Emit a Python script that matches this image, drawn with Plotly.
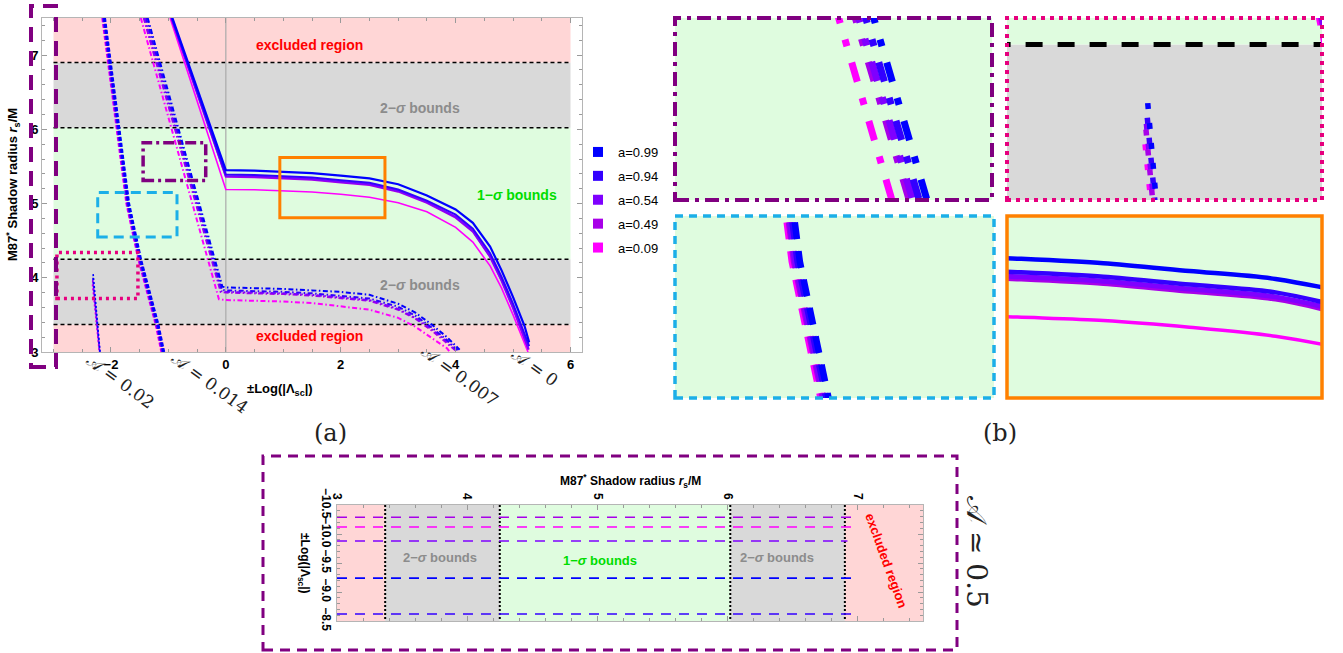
import plotly.graph_objects as go

W, H = 1343, 653

# ---------------- data ----------------
spins = ["0.99", "0.94", "0.54", "0.49", "0.09"]

band_edges = [3.0, 3.37, 4.25, 6.02, 6.9, 7.5]
band_kinds = ["excl", "s2", "s1", "s2", "excl"]
band_x = [-3.0, 6.0]            # horizontal extent of the shaded bands (main panel)

# A = 0 (solid)
solid_top_y = 7.5
solid_top_x = [-0.93, -0.94, -0.945, -0.95, -0.97]
solid_x = [0, 0.5, 1, 1.5, 2, 2.5, 3, 3.5, 4, 4.3, 4.6, 4.8, 5.0, 5.1, 5.2]
solid_y_099 = [5.45, 5.445, 5.43, 5.41, 5.375, 5.34, 5.26, 5.11, 4.92, 4.74, 4.42, 4.10, 3.74, 3.55, 3.35]
solid_y_094 = [5.39, 5.385, 5.37, 5.35, 5.315, 5.28, 5.19, 5.04, 4.85, 4.66, 4.33, 4.01, 3.65, 3.45, 3.25]
solid_y_054 = [5.37, 5.365, 5.35, 5.33, 5.295, 5.26, 5.17, 5.02, 4.82, 4.63, 4.29, 3.97, 3.60, 3.40, 3.20]
solid_y_049 = [5.36, 5.355, 5.34, 5.32, 5.285, 5.25, 5.16, 5.01, 4.81, 4.62, 4.28, 3.96, 3.59, 3.39, 3.19]
solid_y_009 = [5.19, 5.185, 5.17, 5.155, 5.125, 5.085, 5.01, 4.89, 4.68, 4.48, 4.16, 3.86, 3.50, 3.31, 3.13]
solid_end_x = [5.28, 5.28, 5.27, 5.27, 5.26]
solid_end_y = [3.13, 3.08, 3.04, 3.03, 3.0]

# A = 0.007 (dot-dashed)
dd_top_x = [-1.36, -1.39, -1.42, -1.43, -1.48]
dd_kink_x = [-0.06, -0.07, -0.08, -0.09, -0.12]
dd_x = [0, 0.5, 1, 1.5, 2, 2.5, 3, 3.3, 3.6, 3.85]
dd_y_099 = [3.87, 3.865, 3.85, 3.83, 3.81, 3.77, 3.65, 3.53, 3.36, 3.20]
dd_y_094 = [3.83, 3.825, 3.81, 3.79, 3.76, 3.72, 3.61, 3.49, 3.32, 3.16]
dd_y_054 = [3.81, 3.805, 3.79, 3.77, 3.74, 3.70, 3.58, 3.46, 3.30, 3.14]
dd_y_049 = [3.80, 3.795, 3.78, 3.76, 3.73, 3.69, 3.57, 3.45, 3.28, 3.12]
dd_y_009 = [3.70, 3.695, 3.68, 3.66, 3.62, 3.57, 3.46, 3.34, 3.18, 3.05]
dd_end_x = [4.07, 4.04, 4.01, 4.0, 3.9]
dd_end_y = [3.03, 3.02, 3.02, 3.02, 3.0]

# A = 0.014 (dashed)
dsh_y = [7.5, 6.0, 5.0, 4.24, 3.37, 3.0]
dsh_x_099 = [-2.11, -1.86, -1.69, -1.48, -1.18, -1.08]
dsh_x_094 = [-2.12, -1.87, -1.70, -1.49, -1.19, -1.09]
dsh_x_054 = [-2.13, -1.88, -1.71, -1.50, -1.20, -1.10]
dsh_x_049 = [-2.135, -1.885, -1.715, -1.505, -1.205, -1.105]
dsh_x_009 = [-2.145, -1.895, -1.725, -1.515, -1.215, -1.115]

# A = 0.02 (dotted)
dot_top_y = [4.05, 4.0, 3.98, 3.96, 3.91]
dot_top_x = [-2.31, -2.312, -2.316, -2.318, -2.322]
dot_bot_y = [3.0, 3.0, 3.0, 3.0, 3.0]
dot_bot_x = [-2.19, -2.192, -2.196, -2.198, -2.202]

# A ~ 0.5 (bottom panel): +-Log(|Lambda_sc|) level per spin, r_s range
half_logL = [-9.24, -8.62, -9.88, -10.29, -10.12]
half_r_start = [3.0, 3.0, 3.0, 3.0, 3.0]
half_r_end = [7.0, 7.0, 6.92, 7.0, 7.0]

# zoom boxes (data coordinates of main panel)
box_purple = [-1.44, -0.35, 5.31, 5.82]
box_pink = [-2.94, -1.53, 3.72, 4.34]
box_cyan = [-2.23, -0.85, 4.55, 5.15]
box_orange = [0.94, 2.77, 4.81, 5.62]

solid_ys = [solid_y_099, solid_y_094, solid_y_054, solid_y_049, solid_y_009]
dd_ys = [dd_y_099, dd_y_094, dd_y_054, dd_y_049, dd_y_009]
dsh_xs = [dsh_x_099, dsh_x_094, dsh_x_054, dsh_x_049, dsh_x_009]

# ---------------- styles ----------------
spin_colors = ["#0000ff", "#3300ff", "#7f00ff", "#a800e8", "#ff00ff"]
band_fill = {"excl": "#ffd6d6", "s2": "#d9d9d9", "s1": "#dffcdf"}
SANS = "Liberation Sans, Arial, sans-serif"
SERIF = "DejaVu Serif, Liberation Serif, serif"

def px(x):
    return x / W

def py(y):
    return 1 - y / H

fig = go.Figure()

style_main = dict(solid=[2.2, 2, 2, 2, 1.6], dd=2, dd_dash="5px,2.5px,1.5px,2.5px",
                  dsh=2.8, dsh_dash="4px,2px", dot=1.6, dot_dash="2px,2px", shape="linear")
style_inset = dict(solid=[4.5, 4.5, 5, 5, 3.5], dd=7, dd_dash="20px,17px,7px,17px",
                   dsh=6.5, dsh_dash="17px,12px", dot=5.5, dot_dash="6px,14px", shape="linear")
style_inset_smooth = dict(style_inset, shape="spline")


def add_curves(xa, ya, st):
    for i in reversed(range(len(spins))):
        c = spin_colors[i]
        common = dict(mode="lines", xaxis=xa, yaxis=ya, showlegend=False, hoverinfo="skip")
        sline = dict(color=c, width=st["solid"][i], shape=st["shape"])
        if st["shape"] == "spline":
            sline["smoothing"] = 0.8
        fig.add_trace(go.Scatter(
            x=[solid_top_x[i]] + solid_x + [solid_end_x[i]],
            y=[solid_top_y] + solid_ys[i] + [solid_end_y[i]],
            line=sline, **common))
        fig.add_trace(go.Scatter(
            x=[dd_top_x[i], dd_kink_x[i]] + dd_x + [dd_end_x[i]],
            y=[solid_top_y, dd_ys[i][0] + 0.01] + dd_ys[i] + [dd_end_y[i]],
            line=dict(color=c, width=st["dd"], dash=st["dd_dash"]), **common))
        fig.add_trace(go.Scatter(
            x=dsh_xs[i], y=dsh_y,
            line=dict(color=c, width=st["dsh"], dash=st["dsh_dash"]), **common))
        fig.add_trace(go.Scatter(
            x=[dot_top_x[i], dot_bot_x[i]], y=[dot_top_y[i], dot_bot_y[i]],
            line=dict(color=c, width=st["dot"], dash=st["dot_dash"]), **common))


shapes = []


def add_hbands(xa, ya, lw, dash):
    for k in range(len(band_kinds)):
        shapes.append(dict(type="rect", xref=xa, yref=ya, x0=band_x[0], x1=band_x[1],
                           y0=band_edges[k], y1=band_edges[k + 1],
                           fillcolor=band_fill[band_kinds[k]], line=dict(width=0), layer="below"))
    for e in band_edges[1:-1]:
        shapes.append(dict(type="line", xref=xa, yref=ya, x0=band_x[0], x1=band_x[1], y0=e, y1=e,
                           line=dict(color="black", width=lw, dash=dash), layer="below"))


# main panel
add_hbands("x", "y", 1.5, "4px,3px")
shapes.append(dict(type="line", xref="x", yref="y", x0=0, x1=0, y0=3, y1=7.5,
                   line=dict(color="#aaaaaa", width=1.2), layer="below"))
add_curves("x", "y", style_main)

# insets of panel (b)
insets = [("x2", "y2", box_purple), ("x3", "y3", box_pink), ("x4", "y4", box_cyan), ("x5", "y5", box_orange)]
for xa, ya, b in insets:
    add_hbands(xa, ya, 5, "17px,15px")
    add_curves(xa, ya, style_inset_smooth if xa == "x5" else style_inset)

# legend entries
for i, s in enumerate(spins):
    fig.add_trace(go.Scatter(x=[None], y=[None], mode="markers", name="a=" + s,
                             marker=dict(symbol="square", size=10, color=spin_colors[i]),
                             legendgroup=s, xaxis="x", yaxis="y"))

# bottom panel (A ~ 0.5)
for k in range(len(band_kinds)):
    shapes.append(dict(type="rect", xref="x6", yref="y6", x0=band_edges[k], x1=band_edges[k + 1],
                       y0=-10.5, y1=-8.5, fillcolor=band_fill[band_kinds[k]],
                       line=dict(width=0), layer="below"))
for e in band_edges[1:-1]:
    shapes.append(dict(type="line", xref="x6", yref="y6", x0=e, x1=e, y0=-10.5, y1=-8.5,
                       line=dict(color="black", width=2, dash="2px,2px"), layer="below"))
for i in reversed(range(len(spins))):
    fig.add_trace(go.Scatter(x=[half_r_start[i], half_r_end[i]], y=[half_logL[i], half_logL[i]],
                             mode="lines", xaxis="x6", yaxis="y6", showlegend=False, hoverinfo="skip",
                             line=dict(color=spin_colors[i], width=1.6, dash="10px,8px")))

# zoom boxes in main panel
box_styles = [(box_purple, "#800080", 3.5, "11px,4px,3px,4px"),
              (box_pink, "#e6007e", 3.5, "3px,4px"),
              (box_cyan, "#1cafe8", 3, "10px,6px"),
              (box_orange, "#ff8000", 3, "solid")]
for b, col, lw, d in box_styles:
    shapes.append(dict(type="rect", xref="x", yref="y", x0=b[0], x1=b[1], y0=b[2], y1=b[3],
                       line=dict(color=col, width=lw, dash=d), layer="above"))

# borders of the insets (paper)
inset_px = [(675, 992, 18, 200), (1007, 1322, 18, 200), (675, 994, 216, 398), (1007, 1322, 216, 398)]
inset_border = [("#800080", 4, "14px,6px,4px,6px"), ("#e6007e", 4, "4px,5px"),
                ("#1cafe8", 3.5, "8px,6px"), ("#ff8000", 3.5, "solid")]
for (x0, x1, y0, y1), (col, lw, d) in zip(inset_px, inset_border):
    shapes.append(dict(type="rect", xref="paper", yref="paper", x0=px(x0), x1=px(x1), y0=py(y1), y1=py(y0),
                       line=dict(color=col, width=lw, dash=d), layer="above"))

# A~0.5 indicator box in main panel and around bottom panel
shapes.append(dict(type="rect", xref="paper", yref="paper", x0=px(31), x1=px(56), y0=py(367), y1=py(6),
                   line=dict(color="#800080", width=4, dash="15px,9px"), layer="above"))
shapes.append(dict(type="rect", xref="paper", yref="paper", x0=px(263), x1=px(957), y0=py(650), y1=py(456),
                   line=dict(color="#800080", width=3, dash="10px,7px"), layer="above"))

fig.update_layout(shapes=shapes)

# ---------------- axes ----------------
tickfont = dict(family=SANS, size=13, color="black", weight="bold")
frame = dict(showline=True, linecolor="#b5b5b5", linewidth=1, mirror="allticks", ticks="inside",
             tickcolor="#9a9a9a", ticklen=5, showgrid=False, zeroline=False, automargin=False)

fig.update_layout(
    xaxis=dict(domain=[px(42), px(582)], range=[-3.2, 6.2], anchor="y", tickvals=[-2, 0, 2, 4, 6],
               tickfont=tickfont, minor=dict(dtick=0.5, ticklen=3, tickcolor="#9a9a9a", ticks="inside"),
               **frame),
    yaxis=dict(domain=[py(352), py(18)], range=[3, 7.5], anchor="x", tickvals=[3, 4, 5, 6, 7],
               tickfont=tickfont, minor=dict(dtick=0.2, ticklen=3, tickcolor="#9a9a9a", ticks="inside"),
               **frame),
    xaxis6=dict(domain=[px(337), px(923)], range=[3, 7.5], anchor="y6", side="top", tickangle=90,
                tickvals=[3, 4, 5, 6, 7], tickfont=dict(family=SANS, size=12, color="black", weight="bold"),
                minor=dict(dtick=0.2, ticklen=3, tickcolor="#9a9a9a", ticks="inside"), **frame),
    yaxis6=dict(domain=[py(621), py(505)], range=[-8.5, -10.5], anchor="x6", tickangle=90,
                tickvals=[-10.5, -10, -9.5, -9, -8.5], ticktext=["−10.5", "−10.0", "−9.5", "−9.0", "−8.5"],
                tickfont=dict(family=SANS, size=12, color="black", weight="bold"),
                minor=dict(dtick=0.1, ticklen=3, tickcolor="#9a9a9a", ticks="inside"), **frame),
)
for n, (xa, ya, b) in zip(range(2, 6), insets):
    x0, x1, y0, y1 = inset_px[n - 2]
    fig.update_layout({
        "xaxis%d" % n: dict(domain=[px(x0), px(x1)], range=[b[0], b[1]], anchor="y%d" % n,
                            visible=False, automargin=False),
        "yaxis%d" % n: dict(domain=[py(y1), py(y0)], range=[b[2], b[3]], anchor="x%d" % n,
                            visible=False, automargin=False),
    })

# ---------------- texts ----------------
ann = []
lab = dict(family=SANS, size=14, weight="bold")
P = dict(xref="paper", yref="paper", xanchor="center", yanchor="middle", showarrow=False)
ann += [
    dict(x=1.46, y=7.13, xref="x", yref="y", text="excluded region", showarrow=False, font=dict(lab, color="#ff0000")),
    dict(x=1.46, y=3.21, xref="x", yref="y", text="excluded region", showarrow=False, font=dict(lab, color="#ff0000")),
    dict(x=3.38, y=6.29, xref="x", yref="y", text="2−<i>σ</i> bounds", showarrow=False, font=dict(lab, color="#8c8c8c")),
    dict(x=3.38, y=3.9, xref="x", yref="y", text="2−<i>σ</i> bounds", showarrow=False, font=dict(lab, color="#8c8c8c")),
    dict(x=5.07, y=5.12, xref="x", yref="y", text="1−<i>σ</i> bounds", showarrow=False, font=dict(lab, color="#00dd00")),
    dict(x=px(13), y=py(185), textangle=-90,
         text="M87<sup>*</sup> Shadow radius <i>r</i><sub>s</sub>/M",
         font=dict(family=SANS, size=13, color="black", weight="bold"), **P),
    dict(x=px(280), y=py(389), text="±Log(|Λ<sub>sc</sub>|)",
         font=dict(family=SANS, size=13, color="black", weight="bold"), **P),
]
mathf = dict(family=SERIF, size=17, color="#222222")
for txt, cx, cy in [("𝒜 = 0.02", 120, 381), ("𝒜 = 0.014", 210, 383), ("𝒜 = 0.007", 460, 376), ("𝒜 = 0", 535, 367)]:
    ann.append(dict(x=px(cx), y=py(cy), text=txt, textangle=36, font=mathf, **P))
ann += [
    dict(x=px(330), y=py(433), text="(a)", font=dict(family=SERIF, size=24, color="#222222"), **P),
    dict(x=px(1000), y=py(433), text="(b)", font=dict(family=SERIF, size=24, color="#222222"), **P),
    dict(x=px(977), y=py(552), text="𝒜 ≃ 0.5", textangle=90, font=dict(family=SERIF, size=28, color="#222222"), **P),
    # bottom panel
    dict(x=px(630), y=py(481), text="M87<sup>*</sup> Shadow radius <i>r</i><sub>s</sub>/M",
         font=dict(family=SANS, size=12, color="black", weight="bold"), **P),
    dict(x=px(304), y=py(563), textangle=90, text="±Log(|Λ<sub>sc</sub>|)",
         font=dict(family=SANS, size=12, color="black", weight="bold"), **P),
    dict(x=3.79, y=-9.6, xref="x6", yref="y6", text="2−<i>σ</i> bounds", showarrow=False, font=dict(lab, size=13, color="#8c8c8c")),
    dict(x=5.02, y=-9.55, xref="x6", yref="y6", text="1−<i>σ</i> bounds", showarrow=False, font=dict(lab, size=13, color="#00dd00")),
    dict(x=6.38, y=-9.6, xref="x6", yref="y6", text="2−<i>σ</i> bounds", showarrow=False, font=dict(lab, size=13, color="#8c8c8c")),
    dict(x=7.22, y=-9.55, xref="x6", yref="y6", text="excluded region", textangle=70, showarrow=False, font=dict(lab, size=13, color="#ff0000")),
]

fig.update_layout(
    annotations=ann,
    width=W, height=H, margin=dict(l=0, r=0, t=0, b=0, autoexpand=False),
    paper_bgcolor="white", plot_bgcolor="white",
    showlegend=True,
    legend=dict(x=px(578), y=py(137), xanchor="left", yanchor="top", bgcolor="rgba(0,0,0,0)",
                font=dict(family=SANS, size=13, color="black"), tracegroupgap=4, itemclick=False),
)

fig.write_html("out.html", config={"displayModeBar": False, "staticPlot": True},
               post_script="document.body.style.margin='0';document.body.style.overflow='hidden';")
